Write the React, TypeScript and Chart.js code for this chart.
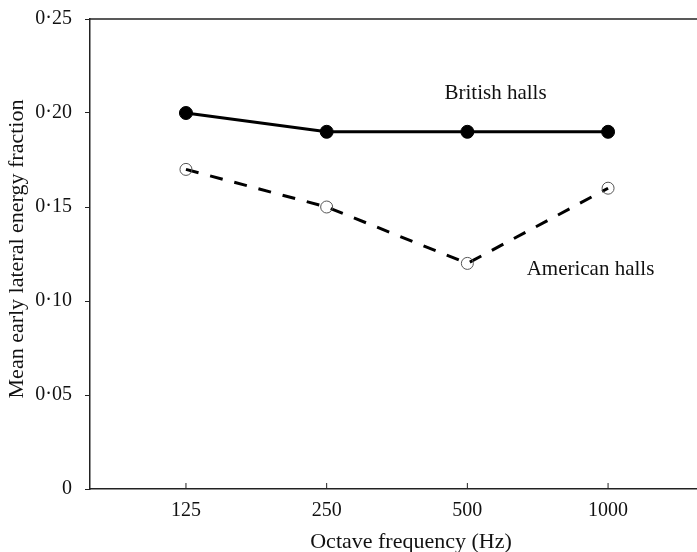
import React, { useEffect, useRef } from "react";
import { Chart, registerables } from "chart.js";

Chart.register(...registerables);

const categories = ["125", "250", "500", "1000"];
const britishHalls = [0.2, 0.19, 0.19, 0.19];
const americanHalls = [0.17, 0.15, 0.12, 0.16];
const yTicks = [0, 0.05, 0.1, 0.15, 0.2, 0.25];
const yTickLabels = ["0", "0·05", "0·10", "0·15", "0·20", "0·25"];
const xTitle = "Octave frequency (Hz)";
const yTitle = "Mean early lateral energy fraction";
const annotations = [
  { text: "British halls", x: 2.2, y: 0.2105 },
  { text: "American halls", x: 2.875, y: 0.1165 },
];

const FONT = "'Liberation Serif', 'Times New Roman', serif";

const framePlugin = {
  id: "frame",
  afterDatasetsDraw(chart: any) {
    const { ctx, chartArea, scales, width } = chart;
    ctx.save();
    ctx.strokeStyle = "#222";
    ctx.lineWidth = 1.5;
    ctx.beginPath();
    ctx.moveTo(chartArea.left, chartArea.top);
    ctx.lineTo(width, chartArea.top);
    ctx.stroke();
    ctx.lineWidth = 1;
    categories.forEach((_, i) => {
      const px = scales.x.getPixelForValue(i);
      ctx.beginPath();
      ctx.moveTo(px, chartArea.bottom);
      ctx.lineTo(px, chartArea.bottom - 6);
      ctx.stroke();
    });
    ctx.fillStyle = "#111";
    ctx.font = `21px ${FONT}`;
    ctx.textAlign = "center";
    ctx.textBaseline = "middle";
    annotations.forEach((a) => {
      ctx.fillText(a.text, scales.x.getPixelForValue(a.x), scales.y.getPixelForValue(a.y));
    });
    // axis titles
    ctx.font = `22px ${FONT}`;
    ctx.fillText(xTitle, 411, 542);
    ctx.translate(17, 249);
    ctx.rotate(-Math.PI / 2);
    ctx.fillText(yTitle, 0, 0);
    ctx.restore();
  },
};

export default function App() {
  const ref = useRef<HTMLCanvasElement>(null);
  useEffect(() => {
    document.body.style.margin = "0";
    const chart = new Chart(ref.current as HTMLCanvasElement, {
      type: "line",
      data: {
        datasets: [
          {
            label: "British halls",
            data: britishHalls.map((v, i) => ({ x: i, y: v })),
            borderColor: "#000",
            backgroundColor: "#000",
            borderWidth: 3,
            pointRadius: 6.5,
            pointBackgroundColor: "#000",
            pointBorderColor: "#000",
            pointBorderWidth: 1,
            tension: 0,
          },
          {
            label: "American halls",
            data: americanHalls.map((v, i) => ({ x: i, y: v })),
            borderColor: "#000",
            borderWidth: 3,
            borderDash: [13, 12],
            pointRadius: 6,
            pointBackgroundColor: "rgba(0,0,0,0)",
            pointBorderColor: "#555",
            pointBorderWidth: 1,
            tension: 0,
          },
        ],
      },
      options: {
        animation: false,
        responsive: false,
        layout: { autoPadding: false, padding: { top: 19, right: 0, left: 0, bottom: 0 } },
        plugins: { legend: { display: false }, tooltip: { enabled: false } },
        scales: {
          x: {
            type: "linear",
            min: -0.682,
            max: 3.632,
            afterBuildTicks: (s: any) => {
              s.ticks = categories.map((_, i) => ({ value: i }));
            },
            afterFit: (s: any) => {
              s.height = 63;
              s.paddingLeft = 0;
              s.paddingRight = 0;
            },
            ticks: {
              callback: (v: any) => categories[v] ?? "",
              color: "#111",
              font: { family: FONT, size: 20 },
              padding: 10,
              maxRotation: 0,
              autoSkip: false,
            },
            grid: { display: false, drawTicks: false },
            border: { display: true, color: "#222", width: 1.5 },
            title: { display: false },
          },
          y: {
            type: "linear",
            min: 0,
            max: 0.25,
            afterBuildTicks: (s: any) => {
              s.ticks = yTicks.map((v) => ({ value: v }));
            },
            afterFit: (s: any) => {
              s.width = 90;
              s.paddingTop = 0;
              s.paddingBottom = 0;
            },
            ticks: {
              callback: (v: any) => {
                const idx = yTicks.findIndex((t) => Math.abs(t - v) < 1e-9);
                return idx >= 0 ? yTickLabels[idx] : "";
              },
              color: "#111",
              font: { family: FONT, size: 20 },
              padding: 13,
            },
            grid: { drawOnChartArea: false, drawTicks: true, tickLength: 5, color: "#222", lineWidth: 1 },
            border: { display: true, color: "#222", width: 1.5 },
            title: { display: false },
          },
        },
      },
      plugins: [framePlugin],
    } as any);
    return () => chart.destroy();
  }, []);
  return (
    <div style={{ width: 697, height: 552, overflow: "hidden" }}>
      <canvas ref={ref} width={697} height={552} style={{ display: "block" }} />
    </div>
  );
}
